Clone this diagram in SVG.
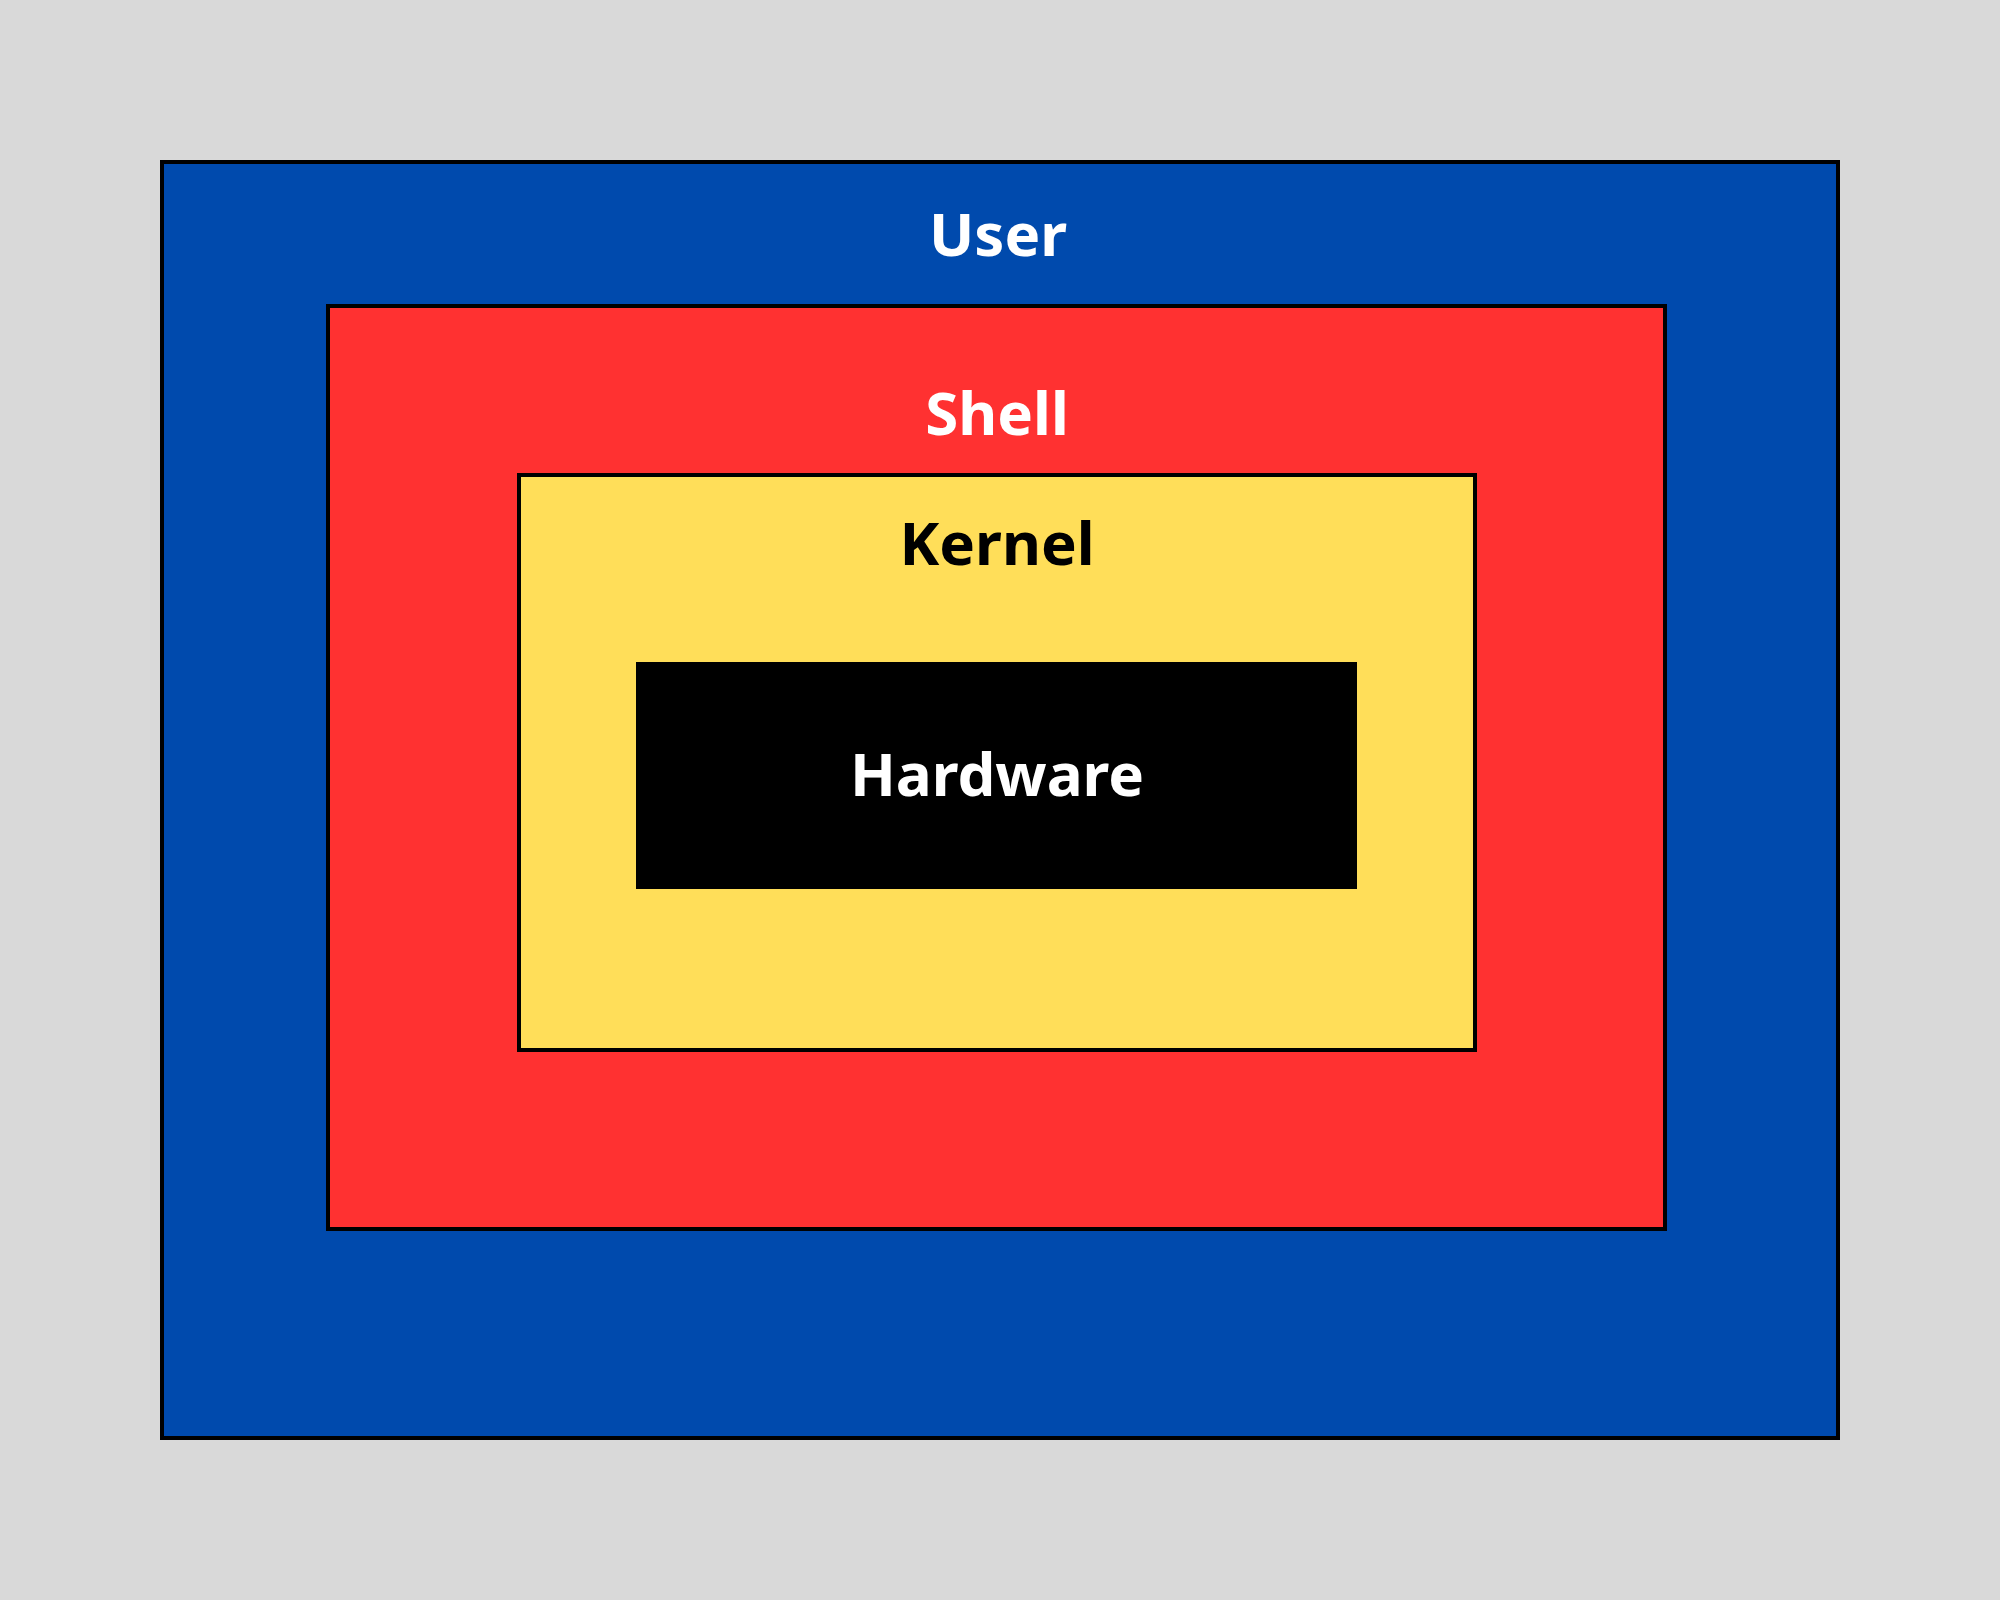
<svg xmlns="http://www.w3.org/2000/svg" width="2000" height="1600" viewBox="0 0 2000 1600">
<style>
.box{stroke:#000;stroke-width:4}
.lbl{font-family:"Noto Sans","Open Sans","Liberation Sans",sans-serif;font-weight:700;font-size:60px;text-anchor:middle}
</style>
<rect x="0" y="0" width="2000" height="1600" fill="#D9D9D9"/>
<g id="user">
<rect class="box" x="162" y="162" width="1676" height="1276" fill="#004AAD"/>
<text class="lbl" x="998" y="256" fill="#FFFFFF">User</text>
</g>
<g id="shell">
<rect class="box" x="328" y="306" width="1337" height="923" fill="#FF3131"/>
<text class="lbl" x="997" y="435" fill="#FFFFFF">Shell</text>
</g>
<g id="kernel">
<rect class="box" x="519" y="475" width="956" height="575" fill="#FFDE59"/>
<text class="lbl" x="997" y="565" fill="#000000">Kernel</text>
</g>
<g id="hardware">
<rect x="636" y="662" width="721" height="227" fill="#000000"/>
<text class="lbl" x="997" y="796" fill="#FFFFFF">Hardware</text>
</g>
<g id="connectors"/>
</svg>
